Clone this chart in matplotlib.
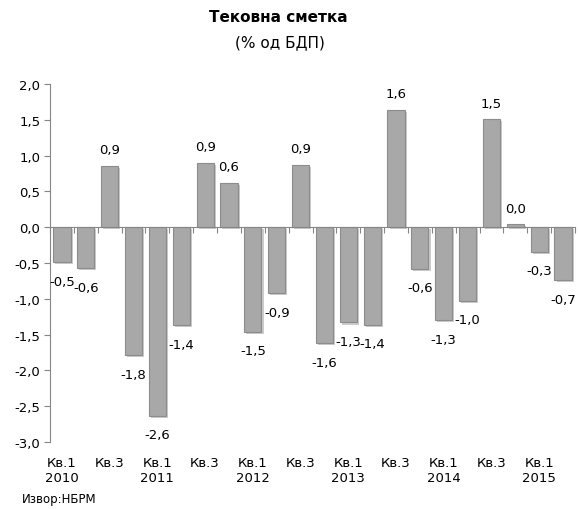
import numpy as np
import matplotlib
matplotlib.use("Agg")
import matplotlib.pyplot as plt
import matplotlib.patheffects as pe

# current account, % of GDP, quarterly 2010 Q1 - 2015 Q2
quarters = ["Кв.1\n2010", "Кв.2", "Кв.3", "Кв.4",
            "Кв.1\n2011", "Кв.2", "Кв.3", "Кв.4",
            "Кв.1\n2012", "Кв.2", "Кв.3", "Кв.4",
            "Кв.1\n2013", "Кв.2", "Кв.3", "Кв.4",
            "Кв.1\n2014", "Кв.2", "Кв.3", "Кв.4",
            "Кв.1\n2015", "Кв.2"]
values = [-0.49, -0.57, 0.86, -1.79,
          -2.63, -1.37, 0.90, 0.62,
          -1.46, -0.92, 0.87, -1.62,
          -1.33, -1.36, 1.64, -0.58,
          -1.30, -1.03, 1.51, 0.04,
          -0.34, -0.74]
yticks = np.arange(-3.0, 2.01, 0.5)

axis_col = "#868686"
fs = 9.5
plt.rcParams['font.family'] = ['DejaVu Sans']

fig = plt.figure(figsize=(5.78, 5.10), dpi=100)
ax = fig.add_axes([50/578, 67/510, 525/578, 358/510])

x = np.arange(len(values))
bars = ax.bar(x, values, width=0.72, color="#a8a8a8", edgecolor="#8c8c8c",
              linewidth=0.8, zorder=3)
for b in bars:
    b.set_path_effects([pe.SimplePatchShadow(offset=(1.5, -1.5), alpha=0.25), pe.Normal()])

# value labels
for xi, v in zip(x, values):
    txt = ("%.1f" % v).replace(".", ",")
    off = 16 if v >= 0 else -19
    ax.annotate(txt, (xi, v), xytext=(0, off), textcoords="offset pixels",
                ha="center", va="center", fontsize=fs, color="#000000")

ax.set_xlim(-0.5, len(values) - 0.5)
ax.set_ylim(-3.0, 2.0)
ax.set_yticks(yticks)
ax.set_yticklabels([("%.1f" % t).replace(".", ",") for t in yticks], fontsize=fs)
ax.tick_params(axis="y", direction="out", length=4, color=axis_col, pad=3)

for s in ["top", "right"]:
    ax.spines[s].set_visible(False)
ax.spines["left"].set_color(axis_col)
ax.spines["bottom"].set_position(("data", 0))
ax.spines["bottom"].set_color(axis_col)
ax.spines["bottom"].set_zorder(4)
ax.set_xticks(np.arange(-0.5, len(values), 1.0))
ax.set_xticklabels([])
ax.tick_params(axis="x", direction="out", length=4, color=axis_col)

# category labels at the bottom, every second quarter
sec = ax.secondary_xaxis("bottom")
sec.spines["bottom"].set_visible(False)
sec.set_xticks(x[::2])
sec.set_xticklabels([q for q in quarters[::2]], fontsize=fs, linespacing=1.25)
sec.tick_params(length=0, pad=10)

fig.text(278/578, 1 - 18/510, "Тековна сметка", ha="center", va="center",
         fontsize=11, fontweight="bold")
fig.text(280/578, 1 - 43/510, "(% од БДП)", ha="center", va="center", fontsize=11)
fig.text(22/578, 1 - 500/510, "Извор:НБРМ", ha="left", va="center", fontsize=8.5)

fig.savefig("out.png", dpi=100)
